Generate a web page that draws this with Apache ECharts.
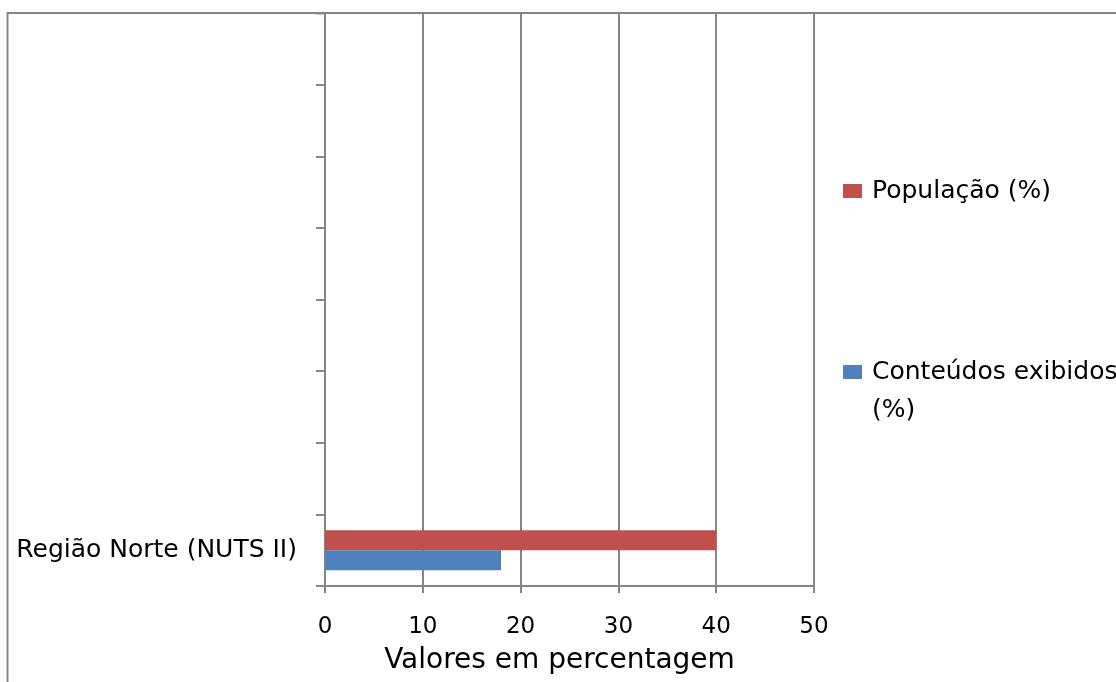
<!DOCTYPE html>
<html>
<head>
<meta charset="utf-8">
<script src="https://cdn.jsdelivr.net/npm/echarts@6/dist/echarts.min.js"></script>
<style>
html,body{margin:0;padding:0;background:#fff;}
#chart{width:1116px;height:682px;}
</style>
</head>
<body>
<div id="chart"></div>
<script>
const categories = ['Região Norte (NUTS II)', '', '', '', '', '', '', ''];
const populacao = [40];
const conteudos = [18];
const xTicks = [0, 10, 20, 30, 40, 50];
const seriesNames = ['População (%)', 'Conteúdos exibidos (%)'];

const gray = '#868686';
const font = 'DejaVu Sans';
const chart = echarts.init(document.getElementById('chart'));
chart.setOption({
  animation: false,
  backgroundColor: '#fff',
  graphic: [{
    type: 'rect', silent: true,
    shape: { x: 7.5, y: 13, width: 1300, height: 900 },
    style: { fill: 'none', stroke: gray, lineWidth: 2 }
  }, {
    type: 'line', silent: true,
    shape: { x1: 316, y1: 14, x2: 325, y2: 14 },
    style: { stroke: '#b0b0b0', lineWidth: 1.5 }
  }],
  grid: { left: 325, right: 302, top: 13, bottom: 96 },
  legend: [{
    orient: 'vertical', left: 843, top: 177, padding: 0,
    data: [seriesNames[0]],
    itemWidth: 19, itemHeight: 14, icon: 'rect',
    textStyle: { fontFamily: font, fontSize: 25, color: '#000', lineHeight: 28, padding: [0, 0, 0, 5] }
  }, {
    orient: 'vertical', left: 843, top: 353, padding: 0,
    data: [seriesNames[1]],
    itemWidth: 19, itemHeight: 52,
    icon: 'path://M0,0L19,0L19,14L0,14Z M18.99,51.99L19,51.99L19,52L18.99,52Z',
    formatter: function (n) { return n.replace(' (%)', '\n(%)'); },
    textStyle: { fontFamily: font, fontSize: 25, color: '#000', lineHeight: 38, padding: [0, 0, 0, 5] }
  }],
  xAxis: {
    type: 'value', min: xTicks[0], max: xTicks[xTicks.length - 1], interval: 10,
    name: 'Valores em percentagem', nameLocation: 'middle', nameGap: 61,
    nameTextStyle: { fontFamily: font, fontSize: 28, color: '#000', padding: [0, 20, 0, 0] },
    axisLine: { show: true, lineStyle: { color: gray, width: 2 } },
    axisTick: { show: true, length: 7, lineStyle: { color: gray, width: 2 } },
    axisLabel: { margin: 30, fontFamily: font, fontSize: 23, color: '#000' },
    splitLine: { show: true, lineStyle: { color: gray, width: 2 } }
  },
  yAxis: {
    type: 'category', data: categories,
    axisLine: { show: true, lineStyle: { color: gray, width: 2 } },
    axisTick: { show: true, interval: 0, length: 9, lineStyle: { color: gray, width: 2 } },
    axisLabel: { margin: 28, interval: 0, fontFamily: font, fontSize: 25, color: '#000' },
    splitLine: { show: false }
  },
  series: [{
    name: seriesNames[0], type: 'bar', data: populacao,
    barWidth: 20, barGap: '0%', itemStyle: { color: '#C0504D' }
  }, {
    name: seriesNames[1], type: 'bar', data: conteudos,
    barWidth: 20, barGap: '0%', itemStyle: { color: '#4F81BD' }
  }]
});
</script>
</body>
</html>
